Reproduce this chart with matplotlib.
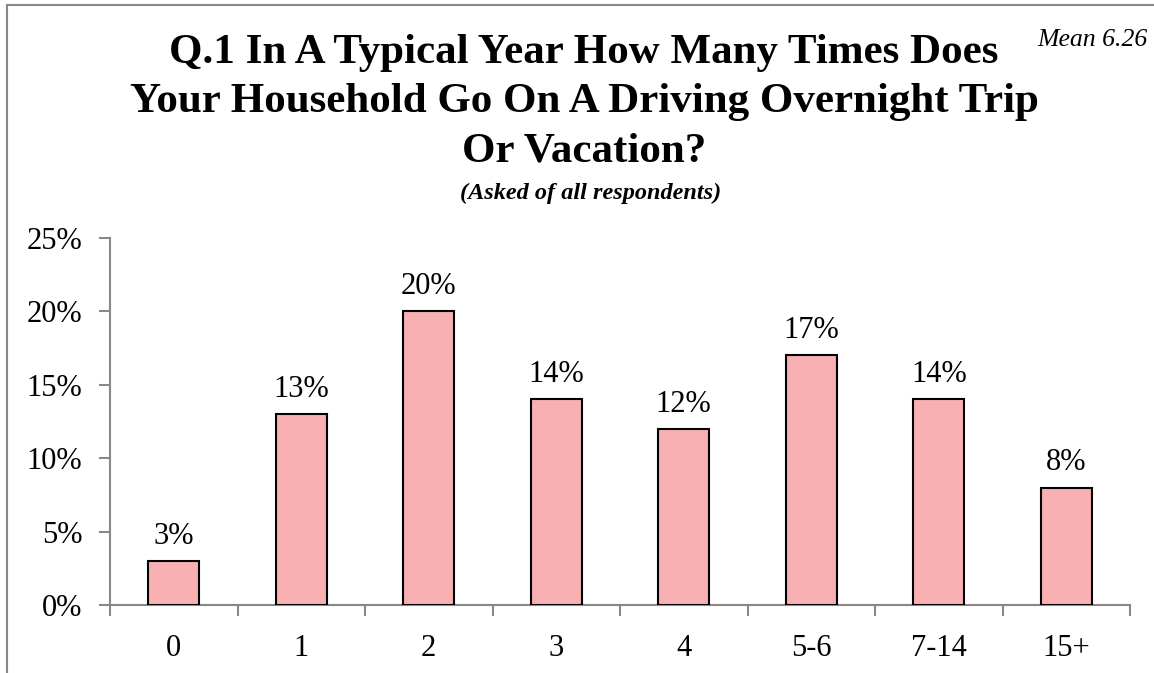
import matplotlib
matplotlib.use("Agg")
import matplotlib.pyplot as plt
from matplotlib.lines import Line2D

categories = ["0", "1", "2", "3", "4", "5-6", "7-14", "15+"]
values = [3, 13, 20, 14, 12, 17, 14, 8]
yticks = [0, 5, 10, 15, 20, 25]
title = "Q.1 In A Typical Year How Many Times Does\nYour Household Go On A Driving Overnight Trip\nOr Vacation?"
subtitle = "(Asked of all respondents)"
mean_text = "Mean 6.26"

plt.rcParams['font.family'] = ['Liberation Serif', 'DejaVu Serif']

W, H = 1154, 673
fig = plt.figure(figsize=(W / 100, H / 100), dpi=100)
ax = fig.add_axes([110 / W, 1 - 605 / H, (1130 - 110) / W, (605 - 238) / H])

x = list(range(len(categories)))
ax.bar(x, values, width=0.4, color='#F8B0B3', edgecolor='black', linewidth=1.5, zorder=3)
for xi, v in zip(x, values):
    ax.text(xi, v + 0.7, f"{v}%", ha='center', va='bottom', fontsize=22)

ax.set_xlim(-0.5, len(categories) - 0.5)
ax.set_ylim(0, 25)
ax.set_yticks(yticks)
ax.set_yticklabels([f"{t}%" for t in yticks], fontsize=22)
ax.set_xticks(x)
ax.set_xticklabels(categories, fontsize=22)
ax.set_xticks([i - 0.5 for i in range(len(categories) + 1)], minor=True)
ax.tick_params(axis='x', which='major', length=0, pad=21)
ax.tick_params(axis='x', which='minor', length=8, color='#888888', width=1.5, direction='out')
ax.tick_params(axis='y', length=8, color='#888888', width=1.5, direction='out', pad=12)
for s in ['top', 'right']:
    ax.spines[s].set_visible(False)
for s in ['left', 'bottom']:
    ax.spines[s].set_color('#888888')
    ax.spines[s].set_linewidth(1.5)

fig.text(584 / W, 1 - 102 / H, title, ha='center', va='center', fontsize=31,
         fontweight='bold', linespacing=1.39)
fig.text(591 / W, 1 - 193 / H, subtitle, ha='center', va='center', fontsize=17.5,
         fontweight='bold', fontstyle='italic')
fig.text(1148 / W, 1 - 40 / H, mean_text, ha='right', va='center', fontsize=18.5,
         fontstyle='italic')

# frame lines
fig.add_artist(Line2D([7 / W, 1.0], [1 - 5 / H, 1 - 5 / H], transform=fig.transFigure,
                      color='#888888', linewidth=1.5))
fig.add_artist(Line2D([7 / W, 7 / W], [1 - 5 / H, 0], transform=fig.transFigure,
                      color='#888888', linewidth=1.5))

fig.savefig("out.png", dpi=100)
